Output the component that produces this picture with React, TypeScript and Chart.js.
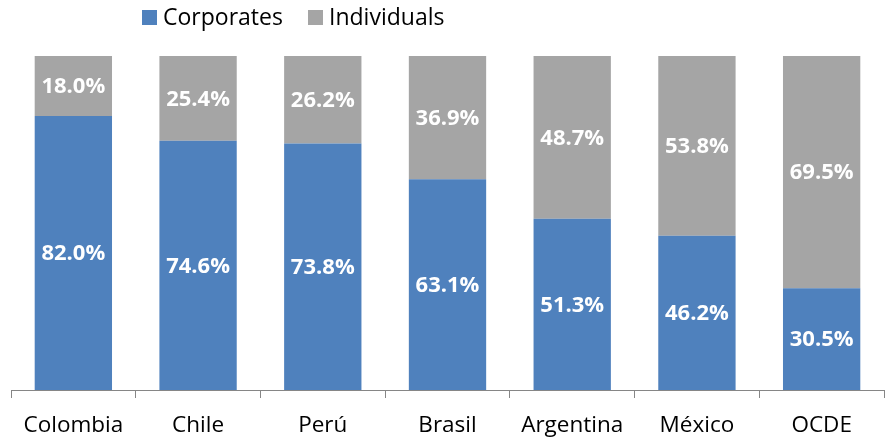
import React, { useEffect, useRef } from "react";
import { Chart, registerables } from "chart.js";

Chart.register(...registerables);

const categories = ["Colombia", "Chile", "Perú", "Brasil", "Argentina", "México", "OCDE"];
const corporates = [82.0, 74.6, 73.8, 63.1, 51.3, 46.2, 30.5];
const individuals = [18.0, 25.4, 26.2, 36.9, 48.7, 53.8, 69.5];
const seriesNames = ["Corporates", "Individuals"];
const colors = ["#4F81BD", "#A5A5A5"];
const FONT = "'Open Sans', sans-serif";

const labelPlugin = {
  id: "segLabels",
  afterDatasetsDraw(chart: any) {
    const ctx = chart.ctx;
    ctx.save();
    ctx.fillStyle = "#FFFFFF";
    ctx.font = `bold 22px ${FONT}`;
    ctx.textAlign = "center";
    ctx.textBaseline = "middle";
    chart.data.datasets.forEach((ds: any, di: number) => {
      const meta = chart.getDatasetMeta(di);
      meta.data.forEach((bar: any, i: number) => {
        const v = ds.data[i];
        const y = (bar.y + bar.base) / 2;
        ctx.fillText(v.toFixed(1) + "%", bar.x, y + 1);
      });
    });
    ctx.restore();
  },
};

const legendPlugin = {
  id: "customLegend",
  afterDraw(chart: any) {
    const ctx = chart.ctx;
    ctx.save();
    ctx.font = `23px ${FONT}`;
    ctx.textBaseline = "middle";
    ctx.textAlign = "left";
    const xs = [142, 308];
    seriesNames.forEach((name, i) => {
      ctx.fillStyle = colors[i];
      ctx.fillRect(xs[i], 10, 15, 15);
      ctx.fillStyle = "#000000";
      ctx.fillText(name, xs[i] + 21, 18);
    });
    ctx.restore();
  },
};

export default function App() {
  const ref = useRef<HTMLCanvasElement>(null);
  useEffect(() => {
    if (!ref.current) return;
    const chart = new Chart(ref.current, {
      type: "bar",
      data: {
        labels: categories,
        datasets: [
          { label: seriesNames[0], data: corporates, backgroundColor: colors[0], barPercentage: 0.62, categoryPercentage: 1 },
          { label: seriesNames[1], data: individuals, backgroundColor: colors[1], barPercentage: 0.62, categoryPercentage: 1 },
        ],
      },
      options: {
        animation: false,
        responsive: false,
        maintainAspectRatio: false,
        layout: { padding: { left: 11, right: 1, top: 56, bottom: 0 } },
        plugins: { legend: { display: false }, tooltip: { enabled: false } },
        scales: {
          x: {
            stacked: true,
            grid: { offset: true, drawOnChartArea: false, drawTicks: true, tickLength: 8, color: "#868686" },
            border: { display: true, color: "#868686", width: 1 },
            ticks: { color: "#000000", font: { family: FONT, size: 22.5 }, padding: 14, maxRotation: 0 },
          },
          y: { stacked: true, display: false, min: 0, max: 100 },
        },
      },
      plugins: [labelPlugin, legendPlugin],
    });
    return () => chart.destroy();
  }, []);
  return (
    <div style={{ position: "fixed", left: 0, top: 0, width: 885, height: 440, overflow: "hidden", background: "#fff" }}>
      <canvas ref={ref} width={885} height={453} />
    </div>
  );
}
